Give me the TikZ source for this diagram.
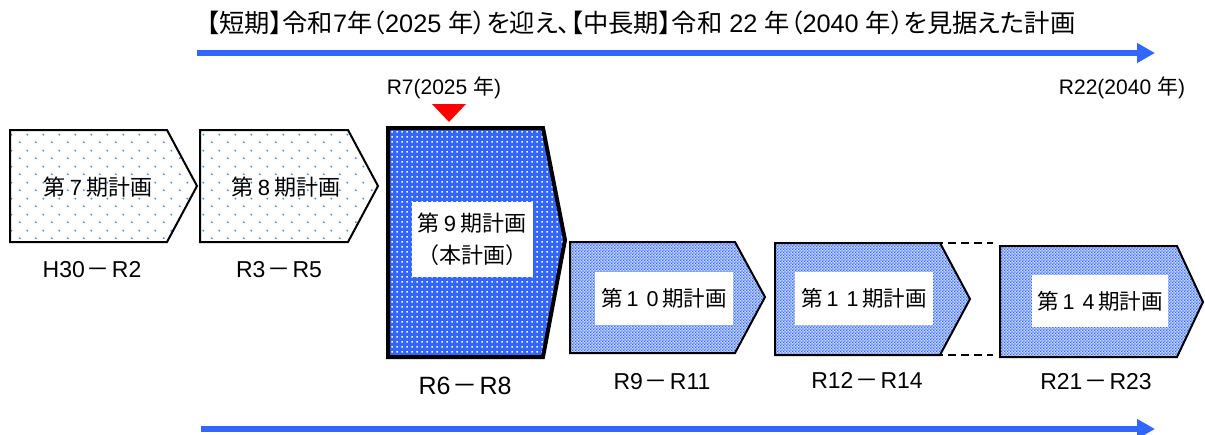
\documentclass[tikz,border=0pt]{standalone}
\usepackage{fontspec}
\setmainfont{Liberation Sans}
\newfontfamily\cjk{Noto Sans CJK JP}
\newfontfamily\cjkp[RawFeature=+palt]{Noto Sans CJK JP}
\usetikzlibrary{patterns.meta,arrows.meta}
\definecolor{myblue}{RGB}{51,102,255}
\definecolor{dotblue}{RGB}{90,130,255}
\definecolor{chkbase}{RGB}{205,218,255}
\tikzdeclarepattern{
  name=sparsedots, type=uncolored,
  bottom left={(0pt,0pt)}, top right={(16pt,16pt)}, tile size={(16pt,16pt)},
  code={\fill (4pt,4pt) circle (1.1pt); \fill (12pt,12pt) circle (1.1pt);}}
\tikzdeclarepattern{
  name=finedots, type=uncolored,
  bottom left={(0pt,0pt)}, top right={(5pt,5pt)}, tile size={(5pt,5pt)},
  code={\fill (1.6pt,1.6pt) rectangle (3.4pt,3.4pt);}}
\tikzdeclarepattern{
  name=checker, type=uncolored,
  bottom left={(0pt,0pt)}, top right={(3.2pt,3.2pt)}, tile size={(3.2pt,3.2pt)},
  code={\fill (0pt,0pt) rectangle (1.6pt,1.6pt); \fill (1.6pt,1.6pt) rectangle (3.2pt,3.2pt);}}
\newcommand\dsh{\kern2pt{\cjk －}\kern2pt}
\newcommand\dg[1]{\kern4pt{\fontspec{Liberation Sans}#1}\kern4pt}
\begin{document}
\begin{tikzpicture}[x=1pt,y=-1pt,
  lightbox/.style={draw=black, line width=2pt, line join=miter, pattern=sparsedots, pattern color=dotblue},
  mainbox/.style={draw=black, line width=4pt, line join=miter, preaction={fill=myblue}, pattern=finedots, pattern color=white},
  futbox/.style={draw=black, line width=2pt, line join=miter, preaction={fill=chkbase}, pattern=checker, pattern color=myblue},
  inner/.style={fill=white, inner sep=0pt, font=\cjk\fontsize{21.5}{21.5}\selectfont},
  plain/.style={inner sep=0pt, font=\cjk\fontsize{22}{22}\selectfont},
  period/.style={inner sep=0pt, font=\fontsize{23}{23}\selectfont},
  yearlbl/.style={inner sep=0pt, font=\fontsize{21}{21}\selectfont},
  bigarrow/.style={draw=myblue, line width=6pt, -{Triangle[length=18pt,width=19pt]}},
  cont/.style={draw=black, line width=1.6pt, dash pattern=on 8pt off 5pt}]
\useasboundingbox (0,0) rectangle (1205,434);

% title and timeline arrows
\node[inner sep=0pt, font=\fontsize{25.3}{25.3}\selectfont] (title) at (641,23)
  {{\cjkp 【短期】令和}7{\cjkp 年（}2025 {\cjkp 年）を迎え、【中長期】令和} 22 {\cjkp 年（}2040 {\cjkp 年）を見据えた計画}};
\coordinate (ta) at (197,53);
\coordinate (tb) at (1155,53);
\draw[bigarrow] (ta) -- (tb);
\coordinate (ba) at (201,429);
\coordinate (bb) at (1155,429);
\draw[bigarrow] (ba) -- (bb);

% year markers
\node[yearlbl] (r7) at (444,88) {R7(2025 {\cjk 年})};
\node[yearlbl] (r22) at (1122,88) {R22(2040 {\cjk 年})};
\fill[red] (432,104) -- (466,104) -- (449,122) -- cycle;

% plan boxes
\draw[lightbox] (10,130) -- (167,130) -- (197,186) -- (167,242) -- (10,242) -- cycle;
\draw[lightbox] (200,130) -- (348,130) -- (378,186) -- (348,242) -- (200,242) -- cycle;
\draw[mainbox] (388,128) -- (543,128) -- (565,240) -- (543,357) -- (388,357) -- cycle;
\draw[futbox] (570,242) -- (735,242) -- (765,297) -- (735,353) -- (570,353) -- cycle;
\draw[futbox] (775,243) -- (940,243) -- (970,299) -- (940,355) -- (775,355) -- cycle;
\draw[futbox] (1000,246) -- (1177,246) -- (1203,302) -- (1177,357) -- (1000,357) -- cycle;

% continuation dashes
\coordinate (d1a) at (922,243);
\coordinate (d1b) at (993,243);
\coordinate (d2a) at (922,355);
\coordinate (d2b) at (993,355);
\draw[cont] (d1a) -- (d1b);
\draw[cont] (d2a) -- (d2b);

% box texts
\node[plain] (p7) at (98,187) {第\dg{7}期計画};
\node[plain] (p8) at (286,187) {第\dg{8}期計画};
\node[inner, minimum width=121pt, minimum height=75pt, align=center,
      font=\cjk\fontsize{22}{32}\selectfont] (p9) at (472,239) {第\dg{9}期計画\\（本計画）};
\node[inner, minimum width=138pt, minimum height=53pt] (p10) at (664,298) {第\dg{1}\dg{0}期計画};
\node[inner, minimum width=138pt, minimum height=53pt] (p11) at (864,298) {第\dg{1}\dg{1}期計画};
\node[inner, minimum width=136pt, minimum height=52pt] (p14) at (1100,301) {第\dg{1}\dg{4}期計画};

% period labels
\node[period] (l7) at (92,270) {H30\dsh R2};
\node[period] (l8) at (279,270) {R3\dsh R5};
\node[period, font=\fontsize{25}{25}\selectfont] (l9) at (465,386) {R6\dsh R8};
\node[period] (l10) at (662,382) {R9\dsh R11};
\node[period] (l11) at (867,380) {R12\dsh R14};
\node[period] (l14) at (1096,382) {R21\dsh R23};
\end{tikzpicture}
\end{document}
